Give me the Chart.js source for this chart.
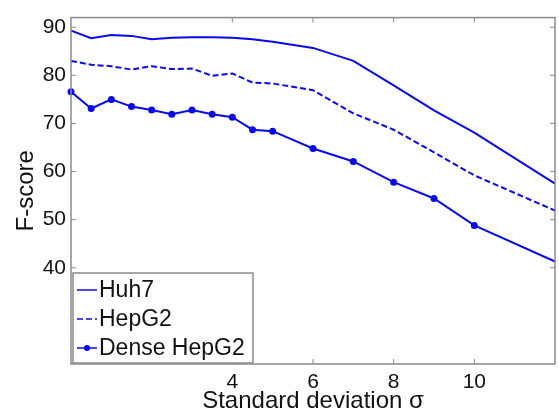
<!DOCTYPE html>
<html>
<head>
<meta charset="utf-8">
<script src="https://cdn.jsdelivr.net/npm/chart.js@4/dist/chart.umd.min.js"></script>
<style>
  html, body { margin: 0; padding: 0; background: #fff; }
  #wrap { width: 559px; height: 413px; position: relative; }
</style>
</head>
<body>
<div id="wrap"><canvas id="cv"></canvas></div>
<script>
// ---------- Données ----------
const sigma      = [0, 0.5, 1, 1.5, 2, 2.5, 3, 3.5, 4, 4.5, 5, 6, 7, 8, 9, 10, 12];
const huh7       = [89.3, 87.7, 88.4, 88.2, 87.5, 87.8, 87.9, 87.9, 87.8, 87.5, 87.0, 85.7, 83.0, 77.9, 72.7, 68.1, 57.5];
const hepg2      = [83.0, 82.2, 81.9, 81.2, 81.9, 81.3, 81.4, 79.9, 80.4, 78.5, 78.3, 76.9, 72.1, 68.7, 64.0, 59.2, 51.9];
const denseHepg2 = [76.6, 73.1, 75.0, 73.5, 72.8, 71.9, 72.8, 71.9, 71.3, 68.7, 68.4, 64.8, 62.1, 57.8, 54.4, 48.8, 41.3];
const xTicks     = [4, 6, 8, 10];
const yTicks     = [40, 50, 60, 70, 80, 90];
const seriesNames = ['Huh7', 'HepG2', 'Dense HepG2'];

const BLUE = '#0a0ae6';
const AXIS = '#8a8a8a';
const FONT = '"Liberation Sans", Arial, Helvetica, sans-serif';
const pts = ys => sigma.map((x, i) => ({ x, y: ys[i] }));

// ---------- Cadre + graduations vers l'intérieur (style MATLAB) ----------
const boxTicks = {
  id: 'boxTicks',
  afterDraw(chart){
    const { ctx, chartArea: a, scales: { x, y } } = chart;
    ctx.save();
    ctx.strokeStyle = AXIS; ctx.lineWidth = 1.5;
    ctx.strokeRect(a.left, a.top, a.right - a.left, a.bottom - a.top);
    ctx.lineWidth = 1;
    const L = 5;
    ctx.beginPath();
    xTicks.forEach(v => { const p = x.getPixelForValue(v);
      ctx.moveTo(p, a.bottom); ctx.lineTo(p, a.bottom - L);
      ctx.moveTo(p, a.top);    ctx.lineTo(p, a.top + L); });
    yTicks.forEach(v => { const p = y.getPixelForValue(v);
      ctx.moveTo(a.left, p);  ctx.lineTo(a.left + L, p);
      ctx.moveTo(a.right, p); ctx.lineTo(a.right - L, p); });
    ctx.stroke();
    ctx.restore();
  }
};

// ---------- Légende dans le coin bas-gauche ----------
const boxLegend = {
  id: 'boxLegend',
  afterDraw(chart){
    const { ctx, chartArea: a } = chart;
    const bx = a.left + 2, bw = 180, bh = 90, by = a.bottom - 1 - bh;
    ctx.save();
    ctx.fillStyle = '#fff'; ctx.fillRect(bx, by, bw, bh);
    ctx.strokeStyle = AXIS; ctx.lineWidth = 1.5; ctx.strokeRect(bx, by, bw, bh);
    ctx.font = `23px ${FONT}`; ctx.textBaseline = 'middle'; ctx.fillStyle = '#111';
    chart.data.datasets.forEach((ds, i) => {
      const cy = by + 17 + i * 29;
      ctx.strokeStyle = ds.borderColor; ctx.lineWidth = 1.5;
      ctx.setLineDash(ds.borderDash || []);
      ctx.beginPath(); ctx.moveTo(bx + 4, cy); ctx.lineTo(bx + 24, cy); ctx.stroke();
      ctx.setLineDash([]);
      if (ds.pointStyle === 'circle') {
        ctx.fillStyle = ds.borderColor;
        ctx.beginPath(); ctx.arc(bx + 14, cy, 3, 0, Math.PI * 2); ctx.fill();
      }
      ctx.fillStyle = '#111';
      ctx.fillText(ds.label, bx + 26, cy + 1);
    });
    ctx.restore();
  }
};

const tickFont = { family: FONT, size: 21 };
const titleFont = { family: FONT, size: 24, lineHeight: 1 };

new Chart(document.getElementById('cv'), {
  type: 'line',
  data: {
    datasets: [
      { label: seriesNames[0], data: pts(huh7), borderColor: BLUE, borderWidth: 2, pointRadius: 0, clip: false },
      { label: seriesNames[1], data: pts(hepg2), borderColor: BLUE, borderWidth: 2, borderDash: [6, 3], pointRadius: 0, clip: false },
      { label: seriesNames[2], data: pts(denseHepg2), borderColor: BLUE, backgroundColor: BLUE, borderWidth: 2,
        pointStyle: 'circle', pointRadius: c => c.dataIndex === sigma.length - 1 ? 0 : 3.5, pointBorderWidth: 0, clip: false }
    ]
  },
  options: {
    responsive: true, maintainAspectRatio: false, animation: false,
    layout: { padding: { top: 14, right: 1, left: 0, bottom: 0 } },
    plugins: { legend: { display: false }, tooltip: { enabled: false } },
    elements: { line: { tension: 0 } },
    scales: {
      x: {
        type: 'linear', min: 0, max: 12,
        afterBuildTicks: s => { s.ticks = xTicks.map(v => ({ value: v })); },
        afterFit: s => { s.height = 49; },
        grid: { display: false, drawTicks: false },
        border: { display: false },
        ticks: { font: tickFont, color: '#111', padding: 6 },
        title: { display: true, text: 'Standard deviation σ', font: titleFont, color: '#111', padding: { top: 0, bottom: 0 } }
      },
      y: {
        min: 20, max: 92,
        afterBuildTicks: s => { s.ticks = yTicks.map(v => ({ value: v })); },
        afterFit: s => { s.width = 71; },
        grid: { display: false, drawTicks: false },
        border: { display: false },
        ticks: { font: tickFont, color: '#111', padding: 5 },
        title: { display: true, text: 'F-score', font: titleFont, color: '#111', padding: { top: 14, bottom: 0 } }
      }
    }
  },
  plugins: [boxTicks, boxLegend]
});
</script>
</body>
</html>
